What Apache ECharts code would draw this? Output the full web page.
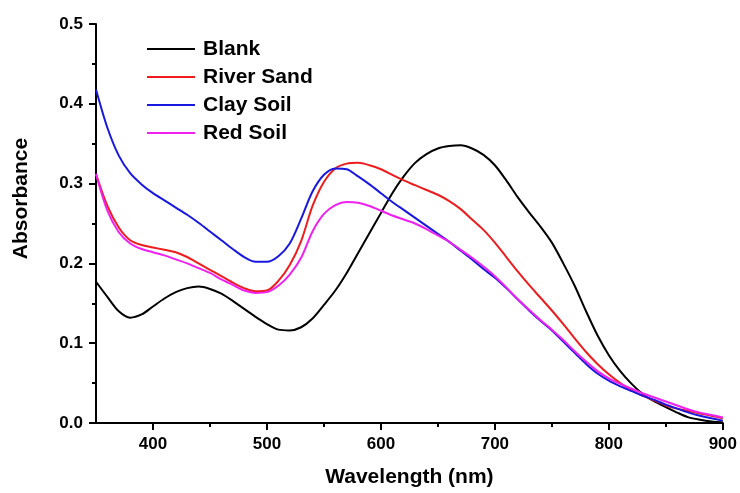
<!DOCTYPE html>
<html>
<head>
<meta charset="utf-8">
<script src="https://cdn.jsdelivr.net/npm/echarts@6/dist/echarts.min.js"></script>
<style>
html,body{margin:0;padding:0;background:#fff;}
#chart{width:740px;height:493px;}
</style>
</head>
<body>
<div id="chart"></div>
<script>
const wavelengths = [350,360,370,380,390,400,410,420,430,440,450,460,470,480,490,500,510,520,530,540,550,560,570,580,590,600,610,620,630,640,650,660,670,680,690,700,710,720,730,740,750,760,770,780,790,800,810,820,830,840,850,860,870,880,890,900];
const blank = [0.177,0.158,0.140,0.132,0.136,0.146,0.156,0.164,0.169,0.171,0.168,0.162,0.153,0.143,0.133,0.124,0.117,0.116,0.120,0.131,0.148,0.166,0.188,0.213,0.238,0.263,0.288,0.309,0.326,0.337,0.344,0.347,0.348,0.344,0.336,0.323,0.304,0.283,0.264,0.246,0.226,0.200,0.172,0.140,0.110,0.085,0.065,0.049,0.036,0.027,0.020,0.013,0.007,0.004,0.002,0.001];
const riverSand = [0.312,0.272,0.245,0.229,0.223,0.220,0.217,0.214,0.208,0.200,0.192,0.184,0.176,0.169,0.165,0.166,0.178,0.198,0.228,0.272,0.302,0.319,0.325,0.326,0.323,0.318,0.311,0.304,0.298,0.292,0.286,0.278,0.268,0.255,0.242,0.226,0.208,0.190,0.173,0.157,0.141,0.124,0.106,0.089,0.074,0.061,0.050,0.041,0.034,0.028,0.022,0.018,0.015,0.012,0.009,0.006];
const claySoil = [0.418,0.370,0.335,0.313,0.299,0.288,0.279,0.270,0.261,0.251,0.240,0.229,0.218,0.208,0.202,0.202,0.209,0.225,0.256,0.290,0.311,0.319,0.318,0.309,0.299,0.288,0.277,0.267,0.257,0.247,0.237,0.227,0.216,0.205,0.193,0.182,0.169,0.155,0.141,0.128,0.116,0.102,0.088,0.074,0.062,0.053,0.046,0.040,0.034,0.029,0.023,0.018,0.013,0.009,0.006,0.003];
const redSoil = [0.312,0.266,0.239,0.225,0.218,0.214,0.210,0.205,0.200,0.194,0.188,0.180,0.173,0.166,0.163,0.164,0.172,0.186,0.207,0.240,0.262,0.273,0.277,0.276,0.272,0.266,0.260,0.255,0.250,0.243,0.235,0.227,0.217,0.207,0.196,0.184,0.170,0.155,0.142,0.129,0.117,0.104,0.090,0.077,0.065,0.056,0.049,0.043,0.037,0.032,0.027,0.022,0.017,0.013,0.010,0.007];
const seriesNames = ['Blank','River Sand','Clay Soil','Red Soil'];
const seriesColors = ['#000000','#ee1c1c','#1818e0','#f020f0'];
const xMajorTicks = [400,500,600,700,800,900];
const xMinorTicks = [450,550,650,750,850];

const allValues = [blank, riverSand, claySoil, redSoil];
const font = '"Liberation Sans", Arial, sans-serif';

const chart = echarts.init(document.getElementById('chart'));
chart.setOption({
  animation: false,
  backgroundColor: '#ffffff',
  grid: {left: 96, right: 16, top: 24, bottom: 67},
  legend: {
    orient: 'vertical',
    left: 147, top: 38, padding: 0,
    icon: 'rect',
    itemWidth: 48, itemHeight: 2, itemGap: 6,
    textStyle: {fontFamily: font, fontWeight: 'bold', fontSize: 21, color: '#000', lineHeight: 22, padding: [0,0,0,3]},
    data: seriesNames
  },
  xAxis: [{
    type: 'value', min: 350, max: 900,
    name: 'Wavelength (nm)', nameLocation: 'middle', nameGap: 44,
    nameTextStyle: {fontFamily: font, fontWeight: 'bold', fontSize: 21, color: '#000'},
    axisLine: {show: true, onZero: false, lineStyle: {color: '#000', width: 2}},
    axisTick: {show: true, length: 7, customValues: xMajorTicks, lineStyle: {color: '#000', width: 2}},
    axisLabel: {customValues: xMajorTicks, margin: 13, fontFamily: font, fontWeight: 'bold', fontSize: 17, color: '#000'},
    splitLine: {show: false}
  }, {
    type: 'value', min: 350, max: 900, position: 'bottom',
    axisLine: {show: false, onZero: false},
    axisTick: {show: true, length: 4, customValues: xMinorTicks, lineStyle: {color: '#000', width: 2}},
    axisLabel: {show: false},
    splitLine: {show: false}
  }],
  yAxis: {
    type: 'value', min: 0, max: 0.5, interval: 0.1,
    name: 'Absorbance', nameLocation: 'middle', nameGap: 64,
    nameTextStyle: {fontFamily: font, fontWeight: 'bold', fontSize: 21, color: '#000', padding: [0,0,0,50]},
    axisLine: {show: true, lineStyle: {color: '#000', width: 2}},
    axisTick: {show: true, length: 7, lineStyle: {color: '#000', width: 2}},
    minorTick: {show: true, splitNumber: 2, length: 4, lineStyle: {color: '#000', width: 2}},
    axisLabel: {margin: 13, fontFamily: font, fontWeight: 'bold', fontSize: 17, color: '#000', formatter: v => v.toFixed(1)},
    splitLine: {show: false}
  },
  series: seriesNames.map((n, i) => ({
    name: n, type: 'line', xAxisIndex: 0, smooth: 0.3, symbol: 'none', showSymbol: false,
    lineStyle: {color: seriesColors[i], width: 2},
    itemStyle: {color: seriesColors[i]},
    data: wavelengths.map((w, j) => [w, allValues[i][j]])
  }))
});
</script>
</body>
</html>
